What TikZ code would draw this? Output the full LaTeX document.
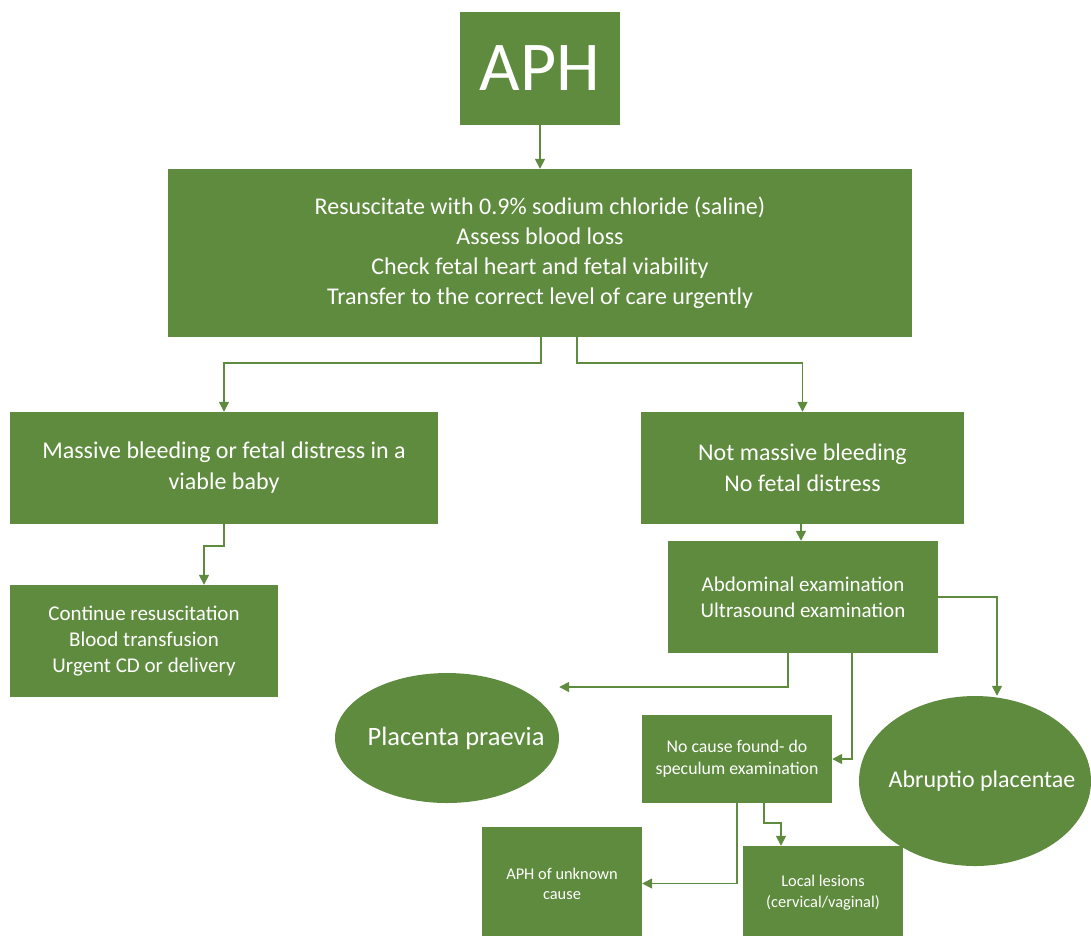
\documentclass[tikz,border=0pt]{standalone}
\usepackage{fontspec}
\setmainfont{Carlito}
\usetikzlibrary{arrows.meta,shapes.geometric}
\definecolor{leaf}{HTML}{5F8B3F}
\begin{document}
\begin{tikzpicture}[x=1pt,y=-1pt,
  greenbox/.style={rectangle,fill=leaf,text=white,inner sep=0pt,align=center},
  greenoval/.style={ellipse,fill=leaf,inner sep=0pt},
  fs/.style 2 args={font=\fontsize{#1}{#2}\selectfont},
  ovaltext/.style={text=white,inner sep=0pt,font=\fontsize{#1}{#1}\selectfont},
  arr/.style={draw=leaf,line width=1.6pt,-{Triangle[length=10pt,width=10pt]}}]
\useasboundingbox (0,0) rectangle (1091,935);

% boxes
\node[greenbox,fs={70}{80},minimum width=160pt,minimum height=113pt] (aph) at (540,68.5) {APH};
\node[greenbox,fs={24}{30},minimum width=744pt,minimum height=168pt] (main) at (540,253)
  {Resuscitate with 0.9\% sodium chloride (saline)\\Assess blood loss\\Check fetal heart and fetal viability\\Transfer to the correct level of care urgently};
\node[greenbox,fs={24}{31},minimum width=428pt,minimum height=112pt] (mass) at (224,468)
  {Massive bleeding or fetal distress in a\\viable baby};
\node[greenbox,fs={24}{31},minimum width=323pt,minimum height=112pt] (notm) at (802.5,468)
  {Not massive bleeding\\No fetal distress};
\node[greenbox,fs={21}{26},minimum width=268pt,minimum height=112pt] (cont) at (144,641)
  {Continue resuscitation\\Blood transfusion\\Urgent CD or delivery};
\node[greenbox,fs={21}{26},minimum width=270pt,minimum height=112pt] (abd) at (803,597)
  {Abdominal examination\\Ultrasound examination};
\node[greenoval,minimum width=224pt,minimum height=130pt,
  label={[ovaltext=26.5,xshift=9pt]center:Placenta praevia}] (pp) at (447,738) {};
\node[greenoval,minimum width=232pt,minimum height=170pt,
  label={[ovaltext=24,xshift=7pt]center:Abruptio placentae}] (ab) at (975,781) {};
\node[greenbox,fs={17.8}{22},minimum width=190pt,minimum height=88pt] (noc) at (737,759)
  {No cause found- do\\speculum examination};
\node[greenbox,fs={16.4}{20},minimum width=160pt,minimum height=113pt] (unk) at (562,883.5)
  {APH of unknown\\cause};
\node[greenbox,fs={16.4}{21},minimum width=160pt,minimum height=94pt] (loc) at (823,893)
  {Local lesions\\(cervical/vaginal)};

% connectors
\draw[arr] (aph.south) -- (main.north);
\draw[arr] ([xshift=1pt]main.south) -- ++(0,26) -| (mass.north);
\draw[arr] ([xshift=37pt]main.south) -- ++(0,26) -| (notm.north);
\draw[arr] (mass.south) -- ++(0,22) -| ([xshift=60pt]cont.north);
\draw[arr] ([xshift=-1.5pt]notm.south) -- ([xshift=-2pt]abd.north);
\draw[arr] ([xshift=-15pt]abd.south) |- ([yshift=51pt]pp.east);
\draw[arr] ([xshift=49pt]abd.south) |- (noc.east);
\draw[arr] (abd.east) -| ([xshift=22pt]ab.north);
\draw[arr] (noc.south) |- (unk.east);
\draw[arr] ([xshift=27pt]noc.south) -- ++(0,20) -| ([xshift=-42pt]loc.north);
\end{tikzpicture}
\end{document}
